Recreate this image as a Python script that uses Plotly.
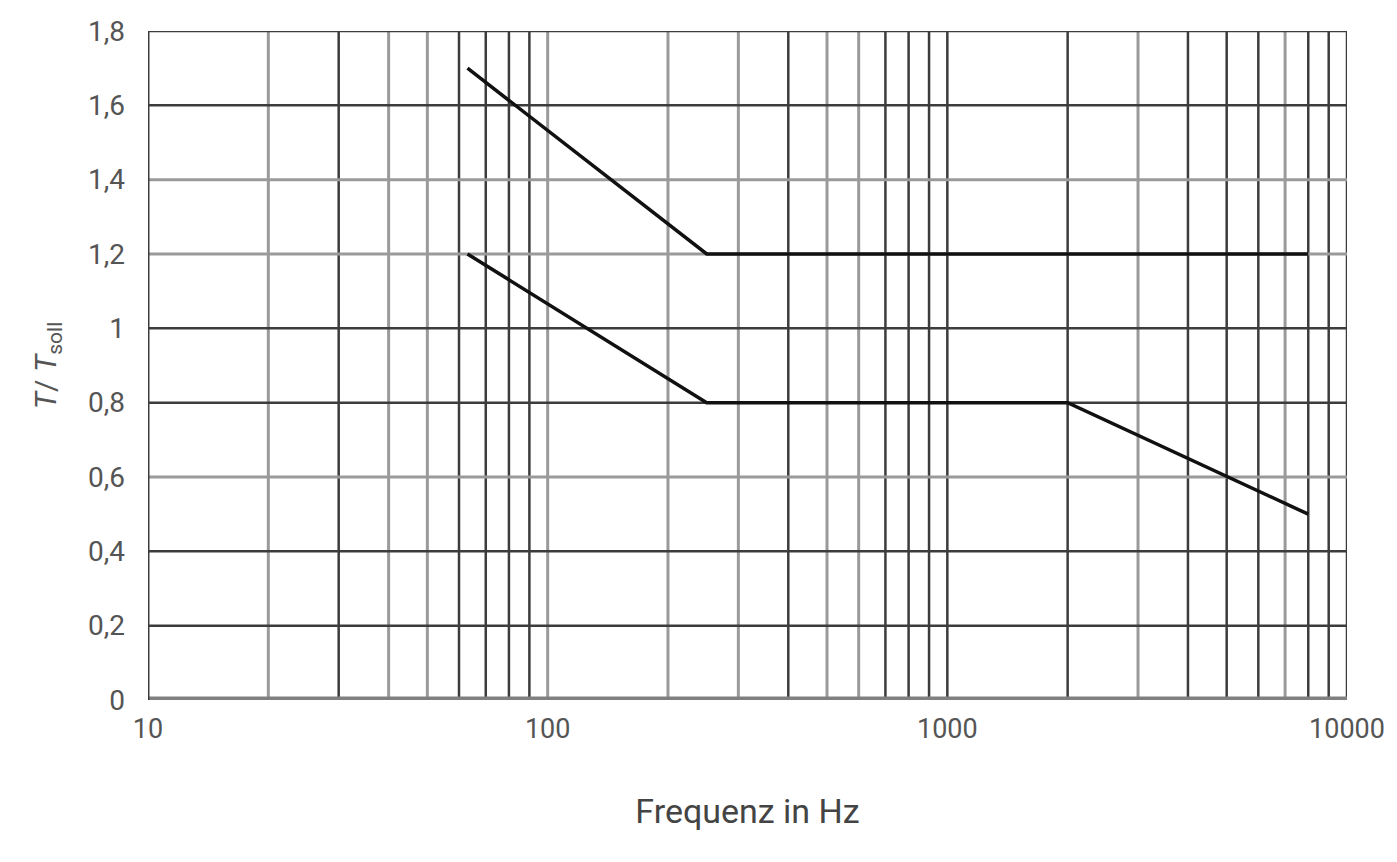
import plotly.graph_objects as go

# ---- data ----
upper_freq = [63, 250, 8000]
upper_ratio = [1.7, 1.2, 1.2]
lower_freq = [63, 250, 2000, 8000]
lower_ratio = [1.2, 0.8, 0.8, 0.5]

x_grid_dark = [30, 60, 70, 80, 90, 400, 700, 800, 900, 1000, 2000, 4000, 5000, 6000, 8000, 9000, 10000]
x_grid_light = [20, 40, 50, 100, 200, 300, 500, 600, 3000, 7000]
y_grid_dark = [0.2, 0.4, 0.8, 1.0, 1.6, 1.8]
y_grid_light = [0.6, 1.2, 1.4]

x_tickvals = [10, 100, 1000, 10000]
x_ticktext = ["10", "100", "1000", "10000"]
y_tickvals = [0, 0.2, 0.4, 0.6, 0.8, 1.0, 1.2, 1.4, 1.6, 1.8]
y_ticktext = ["0", "0,2", "0,4", "0,6", "0,8", "1", "1,2", "1,4", "1,6", "1,8"]

DARK = "#3c3c3c"
LIGHT = "#9a9a9a"
TICK_FONT = "Roboto, sans-serif"
TITLE_FONT = "Roboto, sans-serif"

fig = go.Figure()
fig.add_trace(go.Scatter(x=upper_freq, y=upper_ratio, mode="lines",
                         line=dict(color="#111111", width=3.5), showlegend=False))
fig.add_trace(go.Scatter(x=lower_freq, y=lower_ratio, mode="lines",
                         line=dict(color="#111111", width=3.5), showlegend=False))

shapes = []
for v in x_grid_dark:
    shapes.append(dict(type="line", xref="x", yref="paper", x0=v, x1=v, y0=0, y1=1,
                       line=dict(color=DARK, width=2.5), layer="below"))
for v in x_grid_light:
    shapes.append(dict(type="line", xref="x", yref="paper", x0=v, x1=v, y0=0, y1=1,
                       line=dict(color=LIGHT, width=3), layer="below"))
for v in y_grid_dark:
    shapes.append(dict(type="line", xref="paper", yref="y", x0=0, x1=1, y0=v, y1=v,
                       line=dict(color=DARK, width=2.5), layer="below"))
for v in y_grid_light:
    shapes.append(dict(type="line", xref="paper", yref="y", x0=0, x1=1, y0=v, y1=v,
                       line=dict(color=LIGHT, width=3), layer="below"))
# bottom axis (thick grey) and left axis
shapes.append(dict(type="line", xref="paper", yref="y", x0=0, x1=1, y0=0, y1=0,
                   line=dict(color="#808080", width=7), layer="below"))
shapes.append(dict(type="line", xref="x", yref="paper", x0=10, x1=10, y0=0, y1=1,
                   line=dict(color=DARK, width=3), layer="below"))

fig.update_layout(
    width=1381, height=846,
    margin=dict(l=140, r=42, t=23, b=154),
    paper_bgcolor="white", plot_bgcolor="white",
    shapes=shapes,
    xaxis=dict(type="log", range=[1, 4], tickvals=x_tickvals, ticktext=x_ticktext,
               showgrid=False, zeroline=False, showline=False, ticks="",
               automargin=False, ticklabelstandoff=10,
               tickfont=dict(family=TICK_FONT, size=27, color="#555555"),
               title=dict(text="Frequenz in Hz", standoff=55,
                          font=dict(family=TITLE_FONT, size=34, color="#444444"))),
    yaxis=dict(range=[0, 1.8], tickvals=y_tickvals, ticktext=y_ticktext,
               showgrid=False, zeroline=False, showline=False, ticks="",
               automargin=False, ticklabelstandoff=22,
               tickfont=dict(family=TICK_FONT, size=28, color="#555555"),
               title=dict(text="<i>T</i>/ <i>T</i><sub>soll</sub>", standoff=22,
                          font=dict(family=TITLE_FONT, size=30, color="#555555"))),
)

fig.write_html("out.html")
